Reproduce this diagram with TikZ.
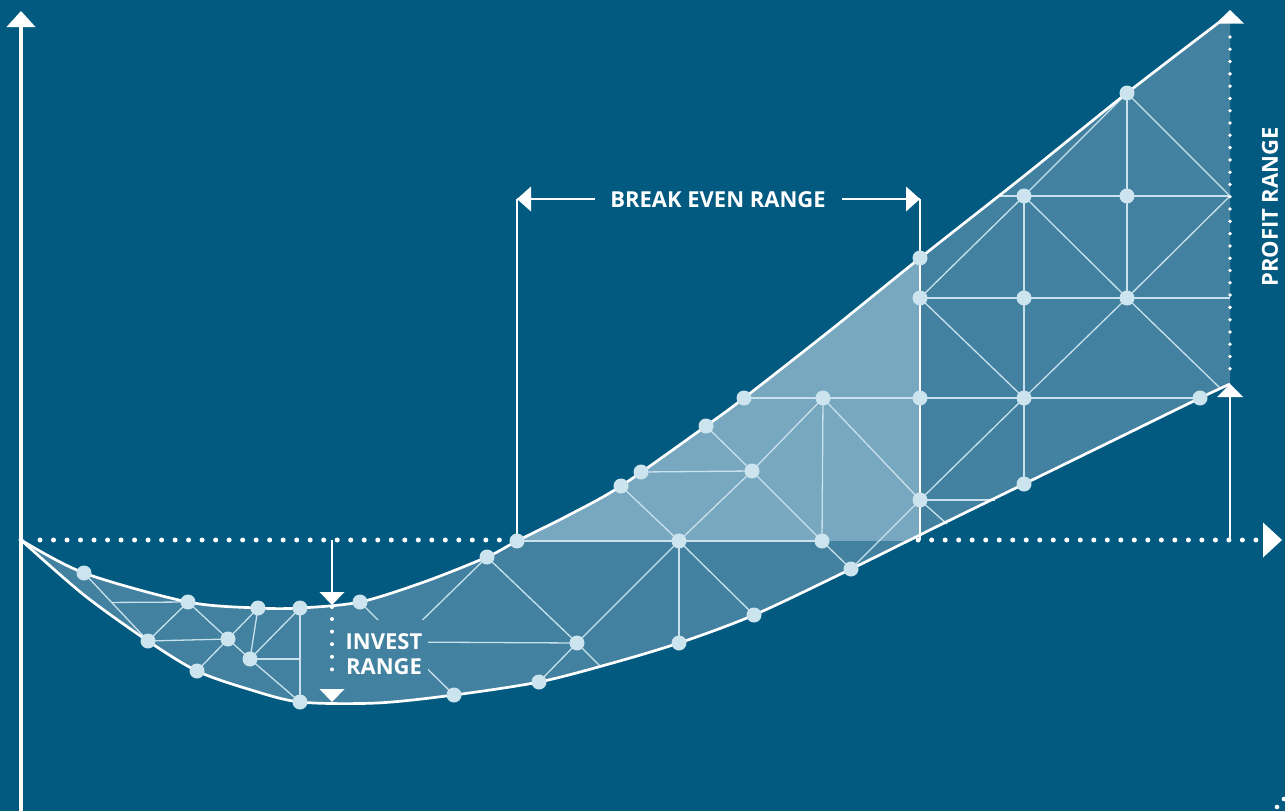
\documentclass[tikz,border=0pt]{standalone}
\usepackage{fontspec}
\newfontfamily\lblfont{Open Sans}
\usetikzlibrary{calc}
\definecolor{bgc}{RGB}{2,90,128}
\definecolor{medc}{RGB}{66,129,160}
\definecolor{lightc}{RGB}{119,168,192}
\definecolor{dotc}{RGB}{204,228,238}
\definecolor{meshc}{RGB}{200,225,236}
\begin{document}
\begin{tikzpicture}[x=1pt,y=-1pt,
  mesh/.style={draw=meshc,line width=1.3pt},
  curve/.style={draw=white,line width=2.7pt},
  guide/.style={draw=white,line width=2.2pt},
  axisline/.style={draw=white,line width=3.6pt},
  dot/.style={circle,fill=dotc,inner sep=0pt,minimum size=15pt},
  lbl/.style={text=white,inner sep=0pt,font=\lblfont\bfseries\fontsize{22}{25}\selectfont},
  dotted line/.style={draw=white,line cap=round,line width=#1},
  tip/.style={fill=white}
]
\useasboundingbox (0,0) rectangle (1285,811);
\fill[bgc] (0,0) rectangle (1285,811);

% ---------- coordinates ----------
\coordinate (S) at (21,540);
\coordinate (cA1) at (84,573);
\coordinate (cA2) at (188,602);
\coordinate (cA3) at (258,608);
\coordinate (cA4) at (300,608);
\coordinate (cA5) at (148,641);
\coordinate (cA6) at (197,671);
\coordinate (cA7) at (228,639);
\coordinate (cA8) at (250,659);
\coordinate (cA9) at (300,702);
\coordinate (cA10) at (360,602);
\coordinate (cA11) at (487,557);
\coordinate (cA12) at (577,643);
\coordinate (cA13) at (454,695);
\coordinate (cA14) at (679,541);
\coordinate (cA15) at (539,682);
\coordinate (cA16) at (679,643);
\coordinate (cA17) at (754,615);
\coordinate (cB1) at (517,541);
\coordinate (cB2) at (621,486);
\coordinate (cB3) at (641,472);
\coordinate (cB4) at (706,426);
\coordinate (cB5) at (744,398);
\coordinate (cB6) at (823,398);
\coordinate (cB7) at (920,398);
\coordinate (cB8) at (752,471);
\coordinate (cB9) at (822,541);
\coordinate (cB10) at (920,500);
\coordinate (cB11) at (851,569);
\coordinate (cC1) at (920,258);
\coordinate (cC2) at (920,298);
\coordinate (cC3) at (1024,196);
\coordinate (cC4) at (1127,93);
\coordinate (cC5) at (1127,196);
\coordinate (cC6) at (1024,298);
\coordinate (cC7) at (1127,298);
\coordinate (cC8) at (1024,398);
\coordinate (cC9) at (1200,398);
\coordinate (cC10) at (1024,484);
\coordinate (E) at (1230,14);
\coordinate (LE) at (1230,384);
% extra points that shape the curves
\coordinate (U1) at (424,582);
\coordinate (U2) at (569,515);
\coordinate (U3) at (832,329);
\coordinate (U4) at (1024,176);
\coordinate (W1) at (84,595);
\coordinate (W2) at (248,689);
\coordinate (W3) at (377,703);
\coordinate (W4) at (609,664);
\coordinate (W5) at (938,526);
\coordinate (W6) at (1112,441);
% mesh end points
\coordinate (H) at (400,642);
\coordinate (P1) at ($(cA1)!0.433!(cA5)$);
\coordinate (Q1) at (600,666);
\coordinate (Q2) at (995,500);
\coordinate (Q3) at (947,524);
\coordinate (Q4) at (998,196);
\coordinate (D1) at (1230,196);
\coordinate (D2) at (1230,298);
\coordinate (Q5) at (1220,388);

% ---------- dotted horizontal axis ----------
\coordinate (AX1) at (40,540);
\coordinate (AX2) at (1256,540);
\draw[dotted line=5pt,dash pattern=on 0pt off 13.51pt] (AX1) -- (AX2);

% ---------- band ----------
\fill[medc] plot[smooth,tension=0.5] coordinates {(S) (cA1) (cA2) (cA3) (cA4) (cA10) (U1) (cA11) (cB1) (U2) (cB2) (cB4) (cB5) (U3) (cC1) (U4) (cC4) (E)}
  -- plot[smooth,tension=0.5] coordinates {(LE) (cC9) (W6) (cC10) (W5) (cB11) (cA17) (cA16) (W4) (cA15) (cA13) (W3) (cA9) (W2) (cA6) (cA5) (W1) (S)} -- cycle;
\begin{scope}
\clip plot[smooth,tension=0.5] coordinates {(S) (cA1) (cA2) (cA3) (cA4) (cA10) (U1) (cA11) (cB1) (U2) (cB2) (cB4) (cB5) (U3) (cC1) (U4) (cC4) (E)}
  -- plot[smooth,tension=0.5] coordinates {(LE) (cC9) (W6) (cC10) (W5) (cB11) (cA17) (cA16) (W4) (cA15) (cA13) (W3) (cA9) (W2) (cA6) (cA5) (W1) (S)} -- cycle;
\fill[lightc] (517,541) rectangle (920,0);
\end{scope}

% ---------- mesh ----------
\draw[mesh] (cA1) -- (cA5);
\draw[mesh] (P1) -- (cA2);
\draw[mesh] (cA2) -- (cA5);
\draw[mesh] (cA2) -- (cA7);
\draw[mesh] (cA5) -- (cA7);
\draw[mesh] (cA7) -- (cA6);
\draw[mesh] (cA7) -- (cA3);
\draw[mesh] (cA7) -- (cA8);
\draw[mesh] (cA3) -- (cA8);
\draw[mesh] (cA4) -- (cA8);
\draw[mesh] (cA8) -- (cA8 -| cA4);
\draw[mesh] (cA4) -- (cA9);
\draw[mesh] (cA8) -- (cA9);
\draw[mesh] (H) -- (cA10);
\draw[mesh] (H) -- (cA11);
\draw[mesh] (H) -- (cA12);
\draw[mesh] (H) -- (cA13);
\draw[mesh] (cA11) -- (cA12);
\draw[mesh] (cA12) -- (cA14);
\draw[mesh] (cA12) -- (cA15);
\draw[mesh] (cA12) -- (Q1);
\draw[mesh] (cB1) -- (cA14) -- (cB9);
\draw[mesh] (cB2) -- (cA14);
\draw[mesh] (cB3) -- (cB8);
\draw[mesh] (cB4) -- (cB8);
\draw[mesh] (cB8) -- (cB6);
\draw[mesh] (cB8) -- (cA14);
\draw[mesh] (cB8) -- (cB9);
\draw[mesh] (cB5) -- (cB6) -- (cB7) -- (cC8) -- (cC9);
\draw[mesh] (cB6) -- (cB9);
\draw[mesh] (cB6) -- (cB10);
\draw[mesh] (cB9) -- (cB11);
\draw[mesh] (cB11) -- (cB10);
\draw[mesh] (cA14) -- (cA16);
\draw[mesh] (cA14) -- (cA17);
\draw[mesh] (cB10) -- (Q2);
\draw[mesh] (cB10) -- (Q3);
\draw[mesh] (cB10) -- (cC8);
\draw[mesh] (cC8) -- (cC10);
\draw[mesh] (cC2) -- (cC3);
\draw[mesh] (cC3) -- (cC4);
\draw[mesh] (Q4) -- (cC3) -- (cC5) -- (D1);
\draw[mesh] (cC4) -- (cC5) -- (cC7);
\draw[mesh] (cC4) -- (D1);
\draw[mesh] (D1) -- (cC7);
\draw[mesh] (cC3) -- (cC6) -- (cC8);
\draw[mesh] (cC3) -- (cC7);
\draw[mesh] (cC2) -- (cC6) -- (cC7) -- (D2);
\draw[mesh] (cC2) -- (cC8);
\draw[mesh] (cC7) -- (cC8);
\draw[mesh] (cC7) -- (Q5);

% ---------- profit range dotted ----------
\coordinate (PR1) at (1230,37);
\coordinate (PR2) at (1230,381);
\draw[dotted line=3.8pt,dash pattern=on 0pt off 12.29pt] (PR1) -- (PR2);

% ---------- curves ----------
\draw[curve] plot[smooth,tension=0.5] coordinates {(S) (cA1) (cA2) (cA3) (cA4) (cA10) (U1) (cA11) (cB1) (U2) (cB2) (cB4) (cB5) (U3) (cC1) (U4) (cC4) (E)};
\draw[curve] plot[smooth,tension=0.5] coordinates {(LE) (cC9) (W6) (cC10) (W5) (cB11) (cA17) (cA16) (W4) (cA15) (cA13) (W3) (cA9) (W2) (cA6) (cA5) (W1) (S)};

% ---------- break even guides ----------
\coordinate (BEL) at (517,199);
\coordinate (BER) at (920,199);
\coordinate (BEB) at (920,540);
\coordinate (BA1) at (595,199);
\coordinate (BA2) at (842,199);
\draw[guide] (BEL) -- (cB1);
\draw[guide] (BER) -- (BEB);
\draw[guide] (BA1) -- (BEL);
\draw[guide] (BA2) -- (BER);
\fill[tip] (BEL) -- ++(14,-12.5) -- ++(0,25) -- cycle;
\fill[tip] (BER) -- ++(-14,-12.5) -- ++(0,25) -- cycle;

% ---------- invest range guides ----------
\coordinate (IV0) at (332,540);
\coordinate (IV1) at (332,605);
\coordinate (IV2) at (332,702);
\coordinate (ID1) at (332,619);
\coordinate (ID2) at (332,682);
\draw[guide] (IV0) -- ($(IV1)+(0,-12)$);
\fill[tip] (IV1) -- ++(-12.5,-13) -- ++(25,0) -- cycle;
\fill[tip] (IV2) -- ++(-12.5,-13) -- ++(25,0) -- cycle;
\draw[dotted line=4pt,dash pattern=on 0pt off 12.6pt] (ID1) -- (ID2);
\fill[white] (332,607) circle (2);

% ---------- profit up arrow ----------
\coordinate (PU0) at (1230,540);
\draw[guide] (PU0) -- (1230,395);
\fill[tip] (LE) -- ++(-13,13) -- ++(26,0) -- cycle;
\fill[tip] (1230,10) -- ++(-14,13.5) -- ++(28,0) -- cycle;

% ---------- axes ----------
\coordinate (VA0) at (21,811);
\coordinate (VA1) at (21,26);
\draw[axisline] (VA0) -- (VA1);
\fill[tip] (21,11) -- ++(-14.5,16) -- ++(29,0) -- cycle;
\fill[tip] (1282,540) -- ++(-19,-17.5) -- ++(0,35) -- cycle;
\fill[white] (S) circle (2.5);

% ---------- dots ----------
\foreach \p in {cA1,cA2,cA3,cA4,cA5,cA6,cA7,cA8,cA9,cA10,cA11,cA12,cA13,cA14,cA15,cA16,cA17,
  cB1,cB2,cB3,cB4,cB5,cB6,cB7,cB8,cB9,cB10,cB11,
  cC1,cC2,cC3,cC4,cC5,cC6,cC7,cC8,cC9,cC10}
  \node[dot] (d\p) at (\p) {};

% ---------- labels ----------
\fill[medc] (342,620) rectangle (428,680);
\node[lbl] (breaklbl) at (718,200) {BREAK EVEN RANGE};
\node[lbl,align=center] (investlbl) at (384,654) {INVEST\\RANGE};
\node[lbl,rotate=90] (profitlbl) at (1270,207) {PROFIT RANGE};

% stray dots at the bottom right corner
\fill[white] (1277,807) circle (2.3);
\fill[white] (1284,799) circle (2.3);
\end{tikzpicture}
\end{document}
